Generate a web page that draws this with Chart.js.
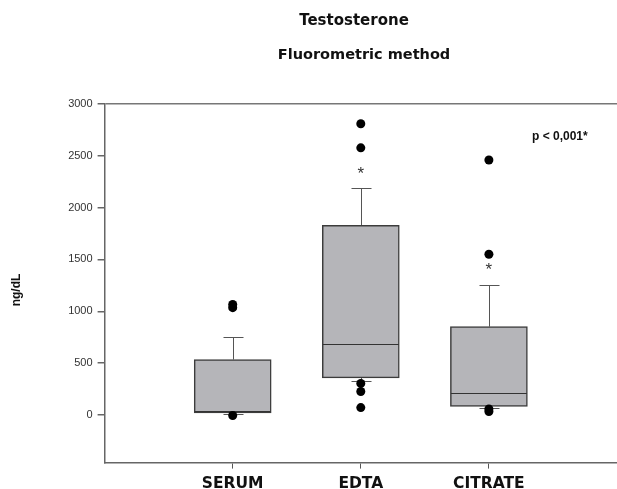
<!DOCTYPE html>
<html>
<head>
<meta charset="utf-8">
<title>Testosterone - Fluorometric method</title>
<script src="https://cdn.jsdelivr.net/npm/chart.js@4.4.1/dist/chart.umd.min.js"></script>
<style>
    html, body { margin: 0; padding: 0; background: #fff; }
    #chartBox { width: 617px; height: 489px; }
</style>
</head>
<body>
<div id="chartBox"><canvas id="boxChart" width="617" height="489"></canvas></div>
<script>
// Datos del gráfico
const categories = ['SERUM', 'EDTA', 'CITRATE'];
const q1 = [20, 358, 81];
const medians = [35, 687, 207];
const q3 = [535, 1830, 852];
const whiskerLow = [10, 329, 71];
const whiskerHigh = [748, 2187, 1258];
const outliers = [[1065, 1035, -5], [2809, 2577, 304, 226, 71], [2460, 1550, 57, 33]];
const extremes = [[], [2361], [1432]];
const yTicks = [0, 500, 1000, 1500, 2000, 2500, 3000];

document.addEventListener('DOMContentLoaded', function() {
    const ctx = document.getElementById('boxChart').getContext('2d');

    // Etiquetas con un hueco a cada lado
    const labels = [''].concat(categories, ['']);

    const boxData = categories.map((c, i) => ({ x: c, y: [q1[i], q3[i]] }));
    const outlierData = [];
    categories.forEach((c, i) => {
        outliers[i].forEach(v => outlierData.push({ x: c, y: v }));
    });

    // Bigotes, medianas, asteriscos y textos
    const boxPlugin = {
        id: 'boxExtras',
        beforeDatasetsDraw(chart) {
            const x = chart.scales.x, y = chart.scales.y, c = chart.ctx;
            c.save();
            c.strokeStyle = '#555';
            c.lineWidth = 1;
            categories.forEach((cat, i) => {
                const px = Math.round(x.getPixelForValue(i + 1)) + 0.5;
                const segs = [[q3[i], whiskerHigh[i]], [q1[i], whiskerLow[i]]];
                segs.forEach(s => {
                    const a = y.getPixelForValue(s[0]);
                    const b = Math.round(y.getPixelForValue(s[1])) + 0.5;
                    c.beginPath();
                    c.moveTo(px, a);
                    c.lineTo(px, b);
                    c.moveTo(px - 10, b);
                    c.lineTo(px + 10, b);
                    c.stroke();
                });
            });
            c.restore();
        },
        afterDatasetDraw(chart, args) {
            if (args.index !== 0) return;
            const x = chart.scales.x, y = chart.scales.y, c = chart.ctx;
            c.save();
            c.strokeStyle = '#333';
            c.lineWidth = 1;
            categories.forEach((cat, i) => {
                const px = x.getPixelForValue(i + 1);
                const py = Math.round(y.getPixelForValue(medians[i])) + 0.5;
                c.beginPath();
                c.moveTo(px - 38, py);
                c.lineTo(px + 38, py);
                c.stroke();
            });
            c.restore();
        },
        afterDatasetsDraw(chart) {
            const x = chart.scales.x, y = chart.scales.y, c = chart.ctx;
            c.save();
            c.fillStyle = '#333';
            c.font = '17px "Liberation Sans", Arial, sans-serif';
            c.textAlign = 'center';
            c.textBaseline = 'middle';
            categories.forEach((cat, i) => {
                extremes[i].forEach(v => {
                    c.fillText('*', x.getPixelForValue(i + 1), y.getPixelForValue(v) + 4);
                });
            });
            c.restore();
        },
        afterDraw(chart) {
            const c = chart.ctx;
            c.save();
            c.fillStyle = '#111';
            c.textBaseline = 'middle';
            c.textAlign = 'center';
            c.font = 'bold 15px "DejaVu Sans", Verdana, sans-serif';
            c.fillText('Testosterone', 354, 21);
            c.font = 'bold 14.5px "DejaVu Sans", Verdana, sans-serif';
            c.fillText('Fluorometric method', 364, 55);
            c.font = 'bold 12px "Liberation Sans", Arial, sans-serif';
            c.textAlign = 'left';
            c.fillText('p < 0,001*', 532, 137);
            // Título del eje Y
            c.translate(17, 290);
            c.rotate(-Math.PI / 2);
            c.textAlign = 'center';
            c.font = 'bold 12px "Liberation Sans", Arial, sans-serif';
            c.fillText('ng/dL', 0, 0);
            c.restore();
        }
    };

    new Chart(ctx, {
        type: 'bar',
        data: {
            labels: labels,
            datasets: [
                {
                    label: 'Caja',
                    data: boxData,
                    backgroundColor: '#b5b5b9',
                    borderColor: '#3c3c3c',
                    borderWidth: 1.5,
                    borderSkipped: false,
                    barThickness: 77,
                    order: 2
                },
                {
                    type: 'line',
                    label: 'Atípicos',
                    data: outlierData,
                    showLine: false,
                    pointRadius: 4.5,
                    pointHoverRadius: 4.5,
                    pointBackgroundColor: '#000',
                    pointBorderWidth: 0,
                    order: 1
                }
            ]
        },
        options: {
            responsive: false,
            animation: false,
            devicePixelRatio: 1,
            layout: { autoPadding: false, padding: { top: 104, left: 0, right: 0, bottom: 0 } },
            plugins: {
                legend: { display: false },
                tooltip: { enabled: false },
                title: { display: false }
            },
            scales: {
                x: {
                    type: 'category',
                    offset: false,
                    afterFit: function(scale) {
                        scale.height = 26.4;
                        scale.paddingRight = 0;
                        scale.paddingLeft = 0;
                    },
                    border: { display: true, color: '#666', width: 1.5 },
                    grid: {
                        offset: false,
                        drawOnChartArea: false,
                        tickLength: 6,
                        color: function(c) {
                            return (c.index >= 1 && c.index <= 3) ? '#555' : 'rgba(0,0,0,0)';
                        }
                    },
                    ticks: {
                        autoSkip: false,
                        maxRotation: 0,
                        padding: 6,
                        color: '#111',
                        font: { family: '"DejaVu Sans", Verdana, sans-serif', size: 15.5, weight: 'bold' }
                    }
                },
                y: {
                    min: -460,
                    max: 3000,
                    afterFit: function(scale) { scale.width = 104.6; },
                    afterBuildTicks: function(scale) {
                        scale.ticks = yTicks.map(v => ({ value: v }));
                    },
                    border: { display: true, color: '#666', width: 1.5 },
                    grid: {
                        tickLength: 7,
                        tickColor: '#666',
                        color: function(c) {
                            return (c.tick && c.tick.value === 3000) ? '#777' : 'rgba(0,0,0,0)';
                        },
                        lineWidth: 1.5
                    },
                    ticks: {
                        padding: 5,
                        color: '#333',
                        font: { family: '"Liberation Sans", Arial, sans-serif', size: 11 },
                        callback: function(value) { return String(value); }
                    }
                }
            }
        },
        plugins: [boxPlugin]
    });
});
</script>
</body>
</html>
